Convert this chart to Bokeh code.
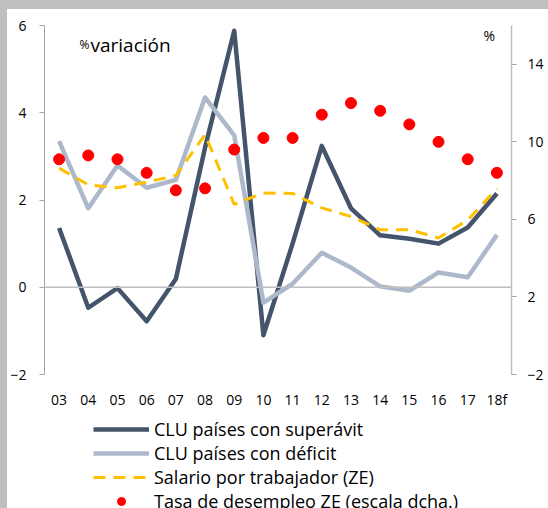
from bokeh.plotting import figure
from bokeh.layouts import column
from bokeh.models import (FactorRange, Range1d, LinearAxis, FixedTicker, Span,
                          Label, Legend, LegendItem, ColumnDataSource)
from bokeh.embed import file_html
from bokeh.resources import INLINE
from jinja2 import Template

# ---- data ----
years = ["03", "04", "05", "06", "07", "08", "09", "10", "11", "12", "13", "14", "15", "16", "17", "18f"]
clu_superavit = [1.36, -0.47, -0.02, -0.78, 0.19, 3.2, 5.88, -1.1, 1.0, 3.24, 1.81, 1.19, 1.11, 1.0, 1.37, 2.15]
clu_deficit = [3.35, 1.81, 2.79, 2.28, 2.46, 4.35, 3.48, -0.35, 0.08, 0.79, 0.45, 0.02, -0.08, 0.34, 0.23, 1.2]
salario = [2.73, 2.35, 2.28, 2.41, 2.56, 3.5, 1.9, 2.16, 2.15, 1.82, 1.62, 1.32, 1.32, 1.13, 1.54, 2.26]
desempleo = [9.1, 9.3, 9.1, 8.4, 7.5, 7.6, 9.6, 10.2, 10.2, 11.4, 12.0, 11.6, 10.9, 10.0, 9.1, 8.4]
left_ticks = [-2, 0, 2, 4, 6]
right_ticks = [-2, 2, 6, 10, 14]
labels = ["CLU países con superávit", "CLU países con déficit",
          "Salario por trabajador (ZE)", "Tasa de desempleo ZE (escala dcha.)"]

FONT = "Open Sans"
TXT = "#000000"
C_SUP, C_DEF, C_SAL, C_DES = "#44546A", "#ADB9CA", "#FFC000", "#FF0000"

src = ColumnDataSource(dict(x=years, a=clu_superavit, b=clu_deficit, c=salario, d=desempleo))

p = figure(width=541, height=402, x_range=FactorRange(*years), y_range=Range1d(-2, 6),
           output_backend="svg", toolbar_location=None,
           min_border_left=36, min_border_right=37, min_border_top=16, min_border_bottom=34)
p.extra_y_ranges = {"r": Range1d(-2, 16)}
p.x_range.range_padding = 0
p.outline_line_color = None
p.xgrid.grid_line_color = None
p.ygrid.grid_line_color = None
p.background_fill_color = "white"
p.border_fill_color = "white"

# zero line
p.add_layout(Span(location=0, dimension="width", line_color="#BFBFBF", line_width=1.5))

p.line("x", "a", source=src, line_color=C_SUP, line_width=4.5, line_join="round")
p.line("x", "b", source=src, line_color=C_DEF, line_width=4.5, line_join="round")
p.line("x", "c", source=src, line_color=C_SAL, line_width=3, line_dash="12 8")
p.scatter("x", "d", source=src, y_range_name="r", size=11, marker="circle",
          fill_color=C_DES, line_color=C_DES)

# left axis
yl = p.yaxis[0]
yl.ticker = FixedTicker(ticks=left_ticks)
yl.axis_line_color = "#A6A6A6"
yl.major_tick_line_color = "#A6A6A6"
yl.major_tick_out = 5
yl.major_tick_in = 0
yl.minor_tick_line_color = None
yl.major_label_standoff = 13
yl.major_label_text_font = FONT
yl.major_label_text_font_size = "14px"
yl.major_label_text_color = TXT

# right axis
yr = LinearAxis(y_range_name="r", ticker=FixedTicker(ticks=right_ticks))
yr.axis_line_color = "#BFBFBF"
yr.axis_line_width = 1.5
yr.major_tick_line_color = "#A6A6A6"
yr.major_tick_out = 5
yr.major_tick_in = 0
yr.minor_tick_line_color = None
yr.major_label_standoff = 11
yr.major_label_text_font = FONT
yr.major_label_text_font_size = "14px"
yr.major_label_text_color = TXT
p.add_layout(yr, "right")

# x axis
xa = p.xaxis[0]
xa.axis_line_color = None
xa.major_tick_line_color = None
xa.major_tick_out = 0
xa.major_tick_in = 0
xa.minor_tick_line_color = None
xa.minor_tick_out = 0
xa.major_label_standoff = 15
xa.major_label_text_font = FONT
xa.major_label_text_font_size = "14px"
xa.major_label_text_color = TXT

# texts
p.add_layout(Label(x=35, y=330, x_units="screen", y_units="screen", text="%",
                   text_baseline="alphabetic",
                   text_font=FONT, text_font_size="12px", text_color=TXT))
p.add_layout(Label(x=46, y=330, x_units="screen", y_units="screen", text="variación",
                   text_baseline="alphabetic",
                   text_font=FONT, text_font_size="19px", text_color=TXT))
p.add_layout(Label(x=439, y=339, x_units="screen", y_units="screen", text="%",
                   text_baseline="alphabetic",
                   text_font=FONT, text_font_size="14px", text_color=TXT))

# ---- legend panel (separate figure below the chart) ----
lg = figure(width=541, height=97, x_range=Range1d(0, 1), y_range=Range1d(0, 1),
            output_backend="svg", toolbar_location=None,
            x_axis_type=None, y_axis_type=None,
            min_border_left=0, min_border_right=0, min_border_top=0, min_border_bottom=0)
lg.outline_line_color = None
lg.background_fill_color = "white"
lg.border_fill_color = "white"
nan = float("nan")
proxy = ColumnDataSource(dict(x=[nan], y=[nan]))
q1 = lg.line("x", "y", source=proxy, line_color=C_SUP, line_width=4.5)
q2 = lg.line("x", "y", source=proxy, line_color=C_DEF, line_width=4.5)
q3 = lg.line("x", "y", source=proxy, line_color=C_SAL, line_width=3, line_dash="12 8")
q4 = lg.scatter("x", "y", source=proxy, size=11, marker="circle",
                fill_color=C_DES, line_color=C_DES)

legend = Legend(items=[LegendItem(label=labels[0], renderers=[q1]),
                       LegendItem(label=labels[1], renderers=[q2]),
                       LegendItem(label=labels[2], renderers=[q3]),
                       LegendItem(label=labels[3], renderers=[q4])],
                location=(49, -5), orientation="vertical",
                glyph_width=56, glyph_height=20, label_height=20, spacing=-2,
                padding=0, margin=0, label_standoff=5,
                label_text_font=FONT, label_text_font_size="18px", label_text_color=TXT,
                border_line_color=None, background_fill_alpha=0)
lg.add_layout(legend, "center")

layout = column(p, lg, spacing=0)

tmpl = Template("""{% extends base %}
{% block postamble %}<style>html { background-color: #FFFFFF; overflow: hidden; }
body { margin: 0; padding: 0; background-color: #FFFFFF; overflow: hidden;
       border-top: 9px solid #BFBFBF; border-left: 7px solid #BFBFBF; }</style>{% endblock %}""")

open("out.html", "w").write(file_html(layout, INLINE, template=tmpl))
